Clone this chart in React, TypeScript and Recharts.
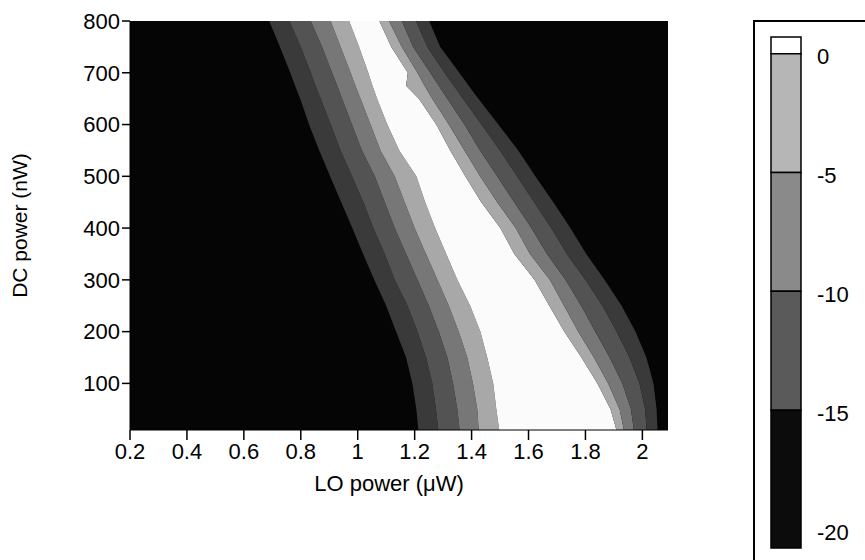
import { ComposedChart, Area, XAxis, YAxis, CartesianGrid, ReferenceArea, Label } from 'recharts';

// DC power rows (nW) at which the contour edges were read
const dcPower = [800, 750, 700, 675, 650, 600, 550, 500, 450, 400, 350, 300, 250, 200, 150, 100, 50, 10];

// contour edges in LO power (uW), left side of the ridge, outermost first
const leftEdge1 = [0.689, 0.727, 0.763, 0.78, 0.798, 0.829, 0.865, 0.903, 0.942, 0.981, 1.019, 1.058, 1.1, 1.135, 1.17, 1.192, 1.206, 1.213];
const leftEdge2 = [0.76, 0.8, 0.835, 0.852, 0.87, 0.905, 0.94, 0.98, 1.02, 1.055, 1.095, 1.13, 1.175, 1.21, 1.24, 1.262, 1.275, 1.283];
const leftEdge3 = [0.835, 0.875, 0.91, 0.928, 0.945, 0.98, 1.015, 1.06, 1.095, 1.13, 1.17, 1.21, 1.25, 1.285, 1.315, 1.335, 1.35, 1.358];
const leftEdge4 = [0.905, 0.94, 0.975, 0.992, 1.01, 1.045, 1.08, 1.13, 1.165, 1.2, 1.24, 1.28, 1.32, 1.355, 1.385, 1.405, 1.42, 1.425];
const leftEdge5 = [0.97, 1.005, 1.037, 1.052, 1.068, 1.104, 1.146, 1.206, 1.237, 1.272, 1.311, 1.35, 1.395, 1.431, 1.455, 1.476, 1.487, 1.497];

// right side of the ridge, innermost (white edge) first
const rightEdge5 = [1.076, 1.118, 1.176, 1.17, 1.215, 1.276, 1.325, 1.378, 1.434, 1.501, 1.55, 1.621, 1.673, 1.726, 1.786, 1.842, 1.888, 1.909];
const rightEdge4 = [1.11, 1.155, 1.21, 1.235, 1.262, 1.32, 1.375, 1.43, 1.49, 1.555, 1.605, 1.675, 1.725, 1.775, 1.83, 1.88, 1.92, 1.935];
const rightEdge3 = [1.155, 1.195, 1.255, 1.285, 1.315, 1.375, 1.43, 1.49, 1.55, 1.61, 1.665, 1.73, 1.785, 1.835, 1.885, 1.93, 1.96, 1.97];
const rightEdge2 = [1.205, 1.245, 1.305, 1.338, 1.37, 1.435, 1.5, 1.56, 1.62, 1.68, 1.735, 1.8, 1.86, 1.91, 1.955, 1.99, 2.01, 2.015];
const rightEdge1 = [1.251, 1.29, 1.357, 1.39, 1.424, 1.494, 1.564, 1.624, 1.687, 1.747, 1.803, 1.867, 1.927, 1.976, 2.014, 2.039, 2.05, 2.053];

const xTicks = [0.2, 0.4, 0.6, 0.8, 1, 1.2, 1.4, 1.6, 1.8, 2];
const yTicks = [100, 200, 300, 400, 500, 600, 700, 800];

// colour scale (dB)
const scaleTicks = [0, -5, -10, -15, -20];
const swatchTop = [0.7, 0, -5, -10, -15];
const swatchBottom = [0, -5, -10, -15, -20.8];
const swatchColors = ['#ffffff', '#b6b6b6', '#8a8a8a', '#5a5a5a', '#0c0c0c'];

const edges = [leftEdge1, leftEdge2, leftEdge3, leftEdge4, leftEdge5, rightEdge5, rightEdge4, rightEdge3, rightEdge2, rightEdge1];
const bandFills = ['none', '#3a3a3a', '#535353', '#777777', '#a8a8a8', '#fbfbfb', '#a8a8a8', '#777777', '#535353', '#3a3a3a'];

// stacked widths: band k spans edges[k-1] .. edges[k]
const rows = dcPower.map((dc, i) => {
  const row: Record<string, number> = { dc };
  edges.forEach((e, k) => {
    row['b' + k] = k === 0 ? e[i] : +(e[i] - edges[k - 1][i]).toFixed(4);
  });
  return row;
});

const font = '"Liberation Sans", Arial, Helvetica, sans-serif';
const tickStyle = { fill: '#000', fontSize: 22, fontFamily: font };

export default function App() {
  return (
    <div
      style={{
        position: 'absolute',
        left: 0,
        top: 0,
        width: 865,
        height: 560,
        overflow: 'hidden',
        background: '#fff',
        fontFamily: font,
      }}
    >
      <div style={{ position: 'absolute', left: 0, top: 0 }}>
        <ComposedChart
          width={700}
          height={560}
          data={rows}
          layout="vertical"
          margin={{ top: 21, right: 32, bottom: 0, left: 0 }}
        >
          <CartesianGrid horizontal={false} vertical={false} fill="#050505" />
          <XAxis
            type="number"
            domain={[0.2, 2.09]}
            allowDataOverflow
            ticks={xTicks}
            tick={tickStyle}
            tickSize={10}
            tickMargin={3}
            height={130}
            axisLine={{ stroke: '#000' }}
            tickLine={{ stroke: '#000', strokeWidth: 1.5 }}
          >
            <Label
              value="LO power (μW)"
              position="insideTop"
              offset={45}
              dx={-10}
              style={{ fill: '#000', fontSize: 22, fontFamily: font }}
            />
          </XAxis>
          <YAxis
            type="number"
            dataKey="dc"
            domain={[10, 800]}
            reversed
            allowDataOverflow
            ticks={yTicks}
            tick={tickStyle}
            tickSize={8}
            tickMargin={2}
            width={130}
            axisLine={{ stroke: '#000' }}
            tickLine={{ stroke: '#000', strokeWidth: 1.5 }}
          >
            <Label
              value="DC power (nW)"
              angle={-90}
              position="center"
              dx={-45}
              style={{ fill: '#000', fontSize: 21, fontFamily: font, textAnchor: 'middle' }}
            />
          </YAxis>
          {bandFills.map((fill, k) => (
            <Area
              key={k}
              dataKey={'b' + k}
              stackId="contour"
              type="linear"
              stroke="none"
              fill={fill}
              fillOpacity={fill === 'none' ? 0 : 1}
              dot={false}
              activeDot={false}
              isAnimationActive={false}
            />
          ))}
        </ComposedChart>
      </div>

      <div
        style={{
          position: 'absolute',
          left: 753,
          top: 20,
          width: 200,
          height: 600,
          border: '2px solid #000',
        }}
      />

      <div style={{ position: 'absolute', left: 740, top: 0 }}>
        <ComposedChart
          width={125}
          height={560}
          data={[{ x: 0 }, { x: 1 }]}
          margin={{ top: 37, right: 0, bottom: 12, left: 31 }}
        >
          <XAxis type="number" dataKey="x" domain={[0, 1]} hide allowDataOverflow />
          <YAxis
            type="number"
            orientation="right"
            domain={[-20.8, 0.7]}
            allowDataOverflow
            ticks={scaleTicks}
            tick={{ ...tickStyle, dy: 3 }}
            tickLine={false}
            axisLine={false}
            tickSize={0}
            tickMargin={16}
            width={64}
          />
          {swatchColors.map((c, i) => (
            <ReferenceArea
              key={i}
              x1={0}
              x2={1}
              y1={swatchBottom[i]}
              y2={swatchTop[i]}
              fill={c}
              fillOpacity={1}
              stroke="#000"
              strokeWidth={1.5}
              ifOverflow="visible"
            />
          ))}
        </ComposedChart>
      </div>
    </div>
  );
}
